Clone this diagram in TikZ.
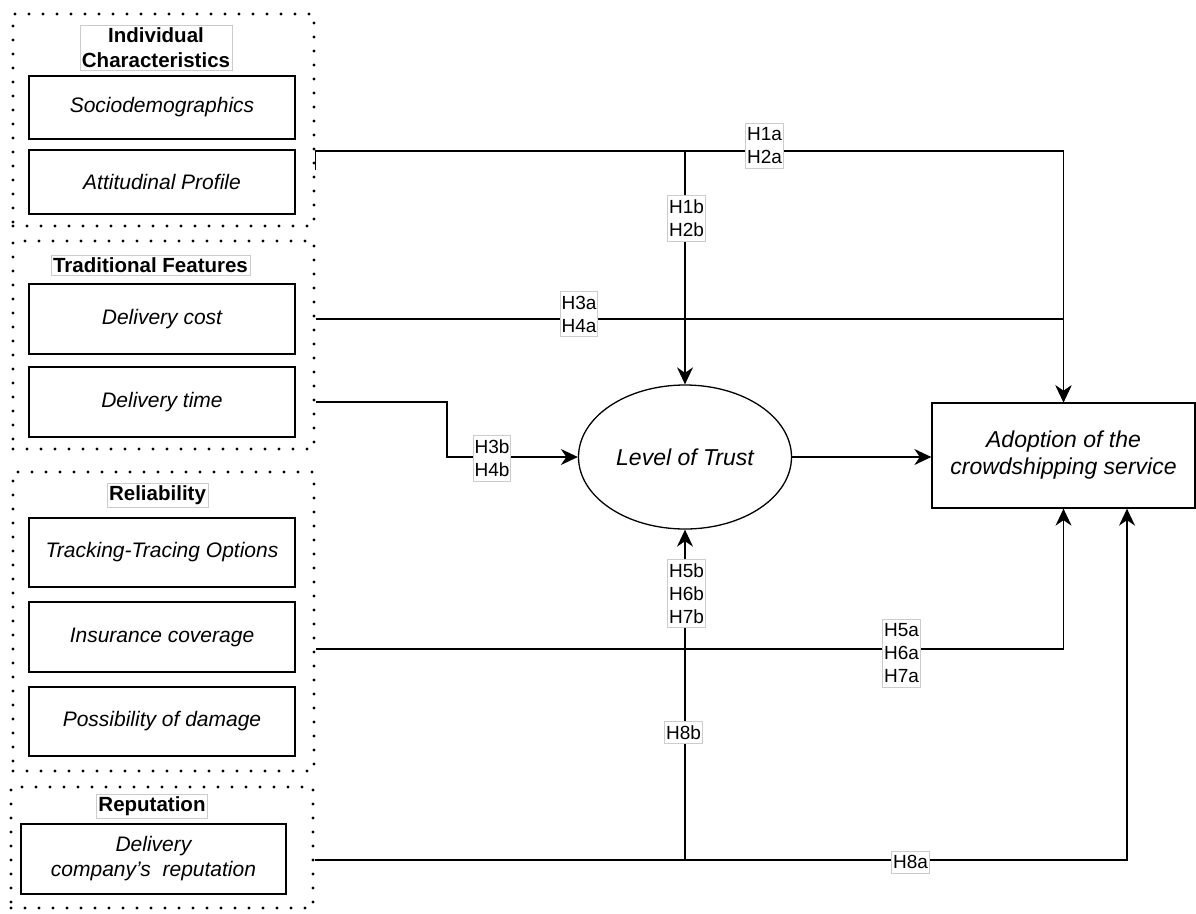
\documentclass[tikz,border=0pt]{standalone}
\usepackage{fontspec}
\setmainfont{Liberation Sans}
\usetikzlibrary{arrows.meta,calc,shapes.geometric}

\begin{document}
\begin{tikzpicture}[x=1pt,y=-1pt,
  group/.style={draw, line width=3.2pt, dash pattern=on 0pt off 14pt, line cap=round, inner sep=0pt},
  factor/.style={draw, line width=1.3pt, inner sep=0pt, minimum width=266pt, align=center,
    font=\fontsize{21}{25}\selectfont\itshape},
  header/.style={draw=black!20, line width=0.8pt, fill=white, inner xsep=2pt, inner ysep=2.5pt,
    align=center, font=\fontsize{20.5}{25}\selectfont\bfseries},
  hyp/.style={draw=black!20, line width=0.8pt, fill=white, inner xsep=1.2pt, inner ysep=4.3pt,
    align=center, font=\fontsize{19}{23}\selectfont},
  arr/.style={line width=1.4pt, -{Stealth[length=17pt,width=16pt,inset=5.5pt]}},
  construct/.style={draw, line width=1.3pt, inner sep=0pt, align=center,
    font=\fontsize{23}{27}\selectfont\itshape}
]
\useasboundingbox (0,0) rectangle (1196,913);

% dotted groups of factors
\node[group, minimum width=301pt, minimum height=212pt] (g1) at (163.5,120) {};
\node[group, minimum width=301pt, minimum height=208pt] (g2) at (163.5,345) {};
\node[group, minimum width=301pt, minimum height=299pt] (g3) at (163.5,621.5) {};
\node[group, minimum width=302pt, minimum height=121pt] (g4) at (162,847.5) {};

% factors
\node[factor, minimum height=63pt] (socio) at (162,107.5) {Sociodemographics};
\node[factor, minimum height=64pt] (att) at (162,182) {Attitudinal Profile};
\node[factor, minimum height=70pt] (cost) at (162,319) {Delivery cost};
\node[factor, minimum height=70pt] (time) at (162,402) {Delivery time};
\node[factor, minimum height=69pt] (track) at (162,552.5) {Tracking-Tracing Options};
\node[factor, minimum height=70pt] (ins) at (162,637) {Insurance coverage};
\node[factor, minimum height=69pt] (dmg) at (162,721.5) {Possibility of damage};
\node[factor, minimum height=70pt, minimum width=265pt] (rep) at (153.5,859)
  {Delivery\\company’s\ \ reputation};

% group headers
\node[header] (h1) at (156,47.5) {Individual\\Characteristics};
\node[header] (h2) at (150.5,265.5) {Traditional Features};
\node[header] (h3) at (157.5,495.5) {Reliability};
\node[header] (h4) at (152,806.5) {Reputation};

% constructs
\node[construct, ellipse, minimum width=213pt, minimum height=144pt] (trust) at (685,457) {Level of Trust};
\node[construct, minimum width=263pt, minimum height=105pt] (adopt) at (1063.5,455.5)
  {Adoption of the\\crowdshipping service};

% hypotheses paths
\draw[arr] (g1.east |- 0,170) -- (g1.east |- 0,151) -| (adopt.north);
\draw[arr] (trust.north |- 0,151) -- (trust.north);
\draw[arr] (g2.east |- cost) -| (adopt.north);
\coordinate (tbend) at (447,402);
\draw[arr] (g2.east |- time) -- (tbend) |- (trust.west);
\draw[arr] (trust.east) -- (adopt.west |- trust.east);
\draw[arr] (g3.east |- 0,649) -| (adopt.south);
\coordinate (adoptR) at ($(adopt.south)+(63.5,0)$);
\draw[arr] (g4.east |- 0,860) -| (adoptR);
\draw[arr] (trust.south |- 0,860) -- (trust.south);

% hypothesis labels
\node[hyp] (l1a) at (764.5,146) {H1a\\H2a};
\node[hyp] (l1b) at (686.5,218.5) {H1b\\H2b};
\node[hyp] (l3a) at (579,314) {H3a\\H4a};
\node[hyp] (l3b) at (492,458.5) {H3b\\H4b};
\node[hyp] (l5b) at (686.5,593.5) {H5b\\H6b\\H7b};
\node[hyp] (l5a) at (901.5,653.5) {H5a\\H6a\\H7a};
\node[hyp] (l8b) at (683.5,732.5) {H8b};
\node[hyp] (l8a) at (910.5,862) {H8a};
\end{tikzpicture}
\end{document}
